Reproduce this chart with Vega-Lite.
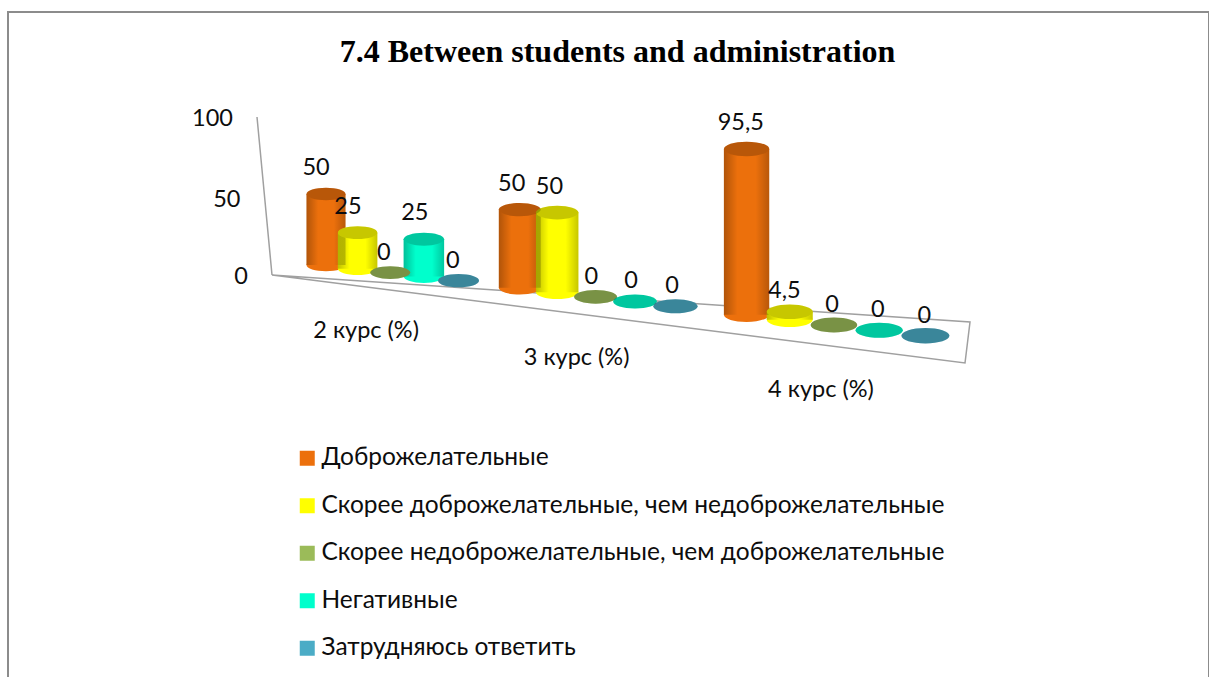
{
"$schema":"https://vega.github.io/schema/vega-lite/v6.json",
"autosize":"none",
"padding":{"left":8,"top":12,"right":0,"bottom":0},
"width":1201,"height":680,
"background":"white",
"config":{"view":{"stroke":"#8c8c8c","strokeWidth":2},"text":{"font":"Lato"}},
"title":{"text":"7.4 Between students and administration","font":"Liberation Serif","fontWeight":"bold","fontSize":32,"color":"#000000","anchor":"middle","dx":9,"dy":57,"offset":0},
"datasets":{
"answers":[
{"course":"2 курс (%)","answer":"Доброжелательные","value":50},
{"course":"2 курс (%)","answer":"Скорее доброжелательные, чем недоброжелательные","value":25},
{"course":"2 курс (%)","answer":"Скорее недоброжелательные, чем доброжелательные","value":0},
{"course":"2 курс (%)","answer":"Негативные","value":25},
{"course":"2 курс (%)","answer":"Затрудняюсь ответить","value":0},
{"course":"3 курс (%)","answer":"Доброжелательные","value":50},
{"course":"3 курс (%)","answer":"Скорее доброжелательные, чем недоброжелательные","value":50},
{"course":"3 курс (%)","answer":"Скорее недоброжелательные, чем доброжелательные","value":0},
{"course":"3 курс (%)","answer":"Негативные","value":0},
{"course":"3 курс (%)","answer":"Затрудняюсь ответить","value":0},
{"course":"4 курс (%)","answer":"Доброжелательные","value":95.5},
{"course":"4 курс (%)","answer":"Скорее доброжелательные, чем недоброжелательные","value":4.5},
{"course":"4 курс (%)","answer":"Скорее недоброжелательные, чем доброжелательные","value":0},
{"course":"4 курс (%)","answer":"Негативные","value":0},
{"course":"4 курс (%)","answer":"Затрудняюсь ответить","value":0}
],
"ticks":[{"tick":100},{"tick":50},{"tick":0}],
"floor":[{"step":0,"along":0,"depth":0},{"step":1,"along":1,"depth":0},{"step":2,"along":1,"depth":1},{"step":3,"along":0,"depth":0}]
},
"layer":[
{"data":{"name":"floor"},
"transform":[{"calculate":"272+datum.along*(698-5*datum.depth)","as":"px"},{"calculate":"275+datum.along*(47+41*datum.depth)","as":"py"}],
"mark":{"type":"line","color":"#a0a0a0","strokeWidth":1.5},
"encoding":{"x":{"field":"px","type":"quantitative","axis":null,"scale":{"domain":[8,1209],"nice":false,"zero":false}},"y":{"field":"py","type":"quantitative","axis":null,"scale":{"domain":[692,12],"nice":false,"zero":false}},"order":{"field":"step","type":"ordinal"}}},
{"data":{"name":"ticks"},
"transform":[{"calculate":"272-0.15*datum.tick","as":"px"},{"calculate":"275-1.58*datum.tick","as":"py"},{"calculate":"datum.py+2+datum.tick*(100-datum.tick)*0.0008","as":"ly"}],
"layer":[
{"mark":{"type":"line","color":"#a0a0a0","strokeWidth":1.5},
"encoding":{"x":{"field":"px","type":"quantitative","axis":null},"y":{"field":"py","type":"quantitative","axis":null}}},
{"mark":{"type":"text","font":"Lato","fontSize":23.5,"align":"right","baseline":"middle","dx":-24,"color":"#0d0d0d"},
"encoding":{"x":{"field":"px","type":"quantitative","axis":null},"y":{"field":"ly","type":"quantitative","axis":null},"text":{"field":"tick","type":"quantitative"}}}
]},
{"data":{"name":"answers"},
"transform":[
{"calculate":"indexof(['2 курс (%)','3 курс (%)','4 курс (%)'],datum.course)","as":"c"},
{"calculate":"indexof(['Доброжелательные','Скорее доброжелательные, чем недоброжелательные','Скорее недоброжелательные, чем доброжелательные','Негативные','Затрудняюсь ответить'],datum.answer)","as":"a"},
{"calculate":"datum.c*5.7+datum.a","as":"s"},
{"calculate":"326+31.1*datum.s+0.508*datum.s*datum.s","as":"px"},
{"calculate":"265+0.118*(datum.px-326)","as":"base"},
{"calculate":"datum.base-datum.value*(1.42+0.00075*(datum.px-326))","as":"top"},
{"calculate":"39+0.015*(datum.px-326)","as":"w"},
{"calculate":"datum.px-datum.w/2","as":"left"},
{"calculate":"datum.px+datum.w/2","as":"right"},
{"calculate":"datum.w*datum.w","as":"area"},
{"calculate":"replace(toString(datum.value),'.',',')","as":"label"},
{"calculate":"datum.px-10+0.01*(datum.px-326)+(datum.value==0?3:0)","as":"labelX"},
{"calculate":"datum.top-(datum.value<10?(datum.value==0?20:21):26)","as":"labelY"},
{"calculate":"datum.px-19+0.025*(datum.px-595)","as":"courseX"},
{"calculate":"datum.base+58+0.0158*(datum.px-390)","as":"courseY"}
],
"layer":[
{"transform":[{"filter":"datum.value>0"}],
"mark":{"type":"point","filled":true,"opacity":1,"shape":"M-1,0A1,0.32,0,1,1,1,0A1,0.32,0,1,1,-1,0Z"},
"encoding":{"x":{"field":"px","type":"quantitative","axis":null},"y":{"field":"base","type":"quantitative","axis":null},"size":{"field":"area","type":"quantitative","scale":null,"legend":null},"color":{"field":"answer","type":"nominal"}}},
{"transform":[{"filter":"datum.value>0"}],
"mark":{"type":"rect"},
"encoding":{"x":{"field":"left","type":"quantitative","axis":null},"x2":{"field":"right"},"y":{"field":"top","type":"quantitative","axis":null},"y2":{"field":"base"},
"color":{"field":"answer","type":"nominal",
"scale":{"domain":["Доброжелательные","Скорее доброжелательные, чем недоброжелательные","Скорее недоброжелательные, чем доброжелательные","Негативные","Затрудняюсь ответить"],"range":["#EC700C","#FFFF00","#9BBB59","#00FFCC","#4BACC6"]},
"legend":{"title":null,"orient":"none","legendX":287,"legendY":434,"direction":"vertical","columns":1,"symbolType":"square","symbolSize":225,"symbolStrokeWidth":0,"symbolOpacity":1,"labelFont":"Lato","labelFontSize":24.5,"labelColor":"#0d0d0d","labelLimit":800,"labelOffset":2,"rowPadding":22.5,"values":["Доброжелательные","Скорее доброжелательные, чем недоброжелательные","Скорее недоброжелательные, чем доброжелательные","Негативные","Затрудняюсь ответить"]}}}},
{"transform":[{"filter":"datum.value>0"}],
"mark":{"type":"rect","color":{"gradient":"linear","x1":0,"y1":0,"x2":1,"y2":0,"stops":[{"offset":0,"color":"rgba(0,0,0,0.25)"},{"offset":0.3,"color":"rgba(0,0,0,0)"},{"offset":0.7,"color":"rgba(0,0,0,0)"},{"offset":1,"color":"rgba(0,0,0,0.22)"}]}},
"encoding":{"x":{"field":"left","type":"quantitative","axis":null},"x2":{"field":"right"},"y":{"field":"top","type":"quantitative","axis":null},"y2":{"field":"base"}}},
{"mark":{"type":"point","filled":true,"opacity":1,"shape":"M-1,0A1,0.32,0,1,1,1,0A1,0.32,0,1,1,-1,0Z"},
"encoding":{"x":{"field":"px","type":"quantitative","axis":null},"y":{"field":"top","type":"quantitative","axis":null},"size":{"field":"area","type":"quantitative","scale":null,"legend":null},"color":{"field":"answer","type":"nominal"}}},
{"mark":{"type":"point","filled":true,"color":"#000000","opacity":0.22,"shape":"M-1,0A1,0.32,0,1,1,1,0A1,0.32,0,1,1,-1,0Z"},
"encoding":{"x":{"field":"px","type":"quantitative","axis":null},"y":{"field":"top","type":"quantitative","axis":null},"size":{"field":"area","type":"quantitative","scale":null,"legend":null}}},
{"mark":{"type":"text","font":"Lato","fontSize":23.5,"align":"center","baseline":"middle","color":"#0d0d0d"},
"encoding":{"x":{"field":"labelX","type":"quantitative","axis":null},"y":{"field":"labelY","type":"quantitative","axis":null},"text":{"field":"label","type":"nominal"}}},
{"transform":[{"filter":"datum.a==2"}],
"mark":{"type":"text","font":"Lato","fontSize":23.5,"align":"center","baseline":"middle","color":"#0d0d0d"},
"encoding":{"x":{"field":"courseX","type":"quantitative","axis":null},"y":{"field":"courseY","type":"quantitative","axis":null},"text":{"field":"course","type":"nominal"}}}
]}
]
}
